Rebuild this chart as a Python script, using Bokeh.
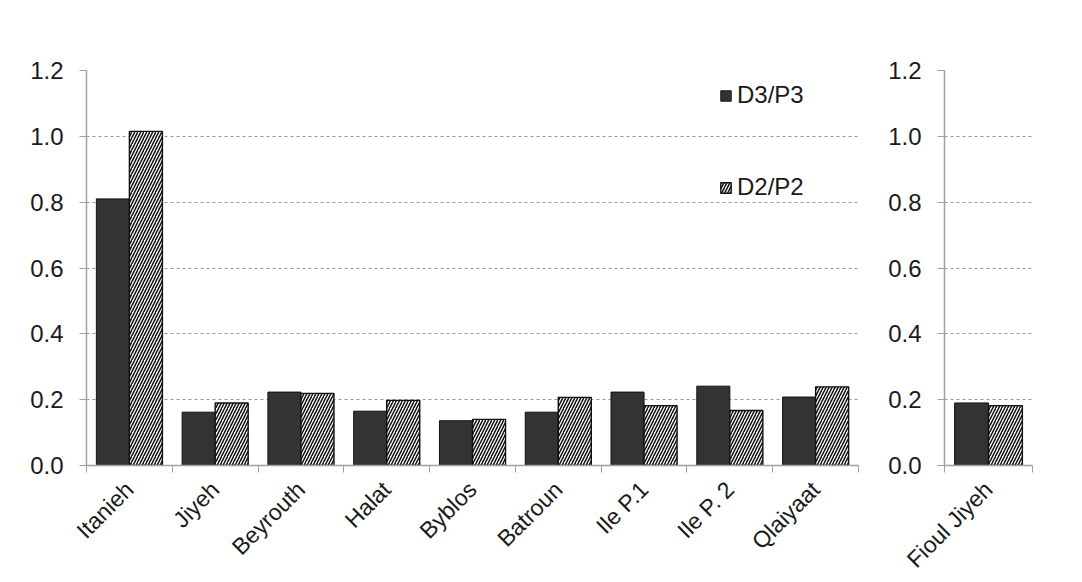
import numpy as np
from math import pi
from bokeh.plotting import figure
from bokeh.layouts import row
from bokeh.models import FixedTicker, Range1d, Legend, LegendItem, ColumnDataSource
from bokeh.embed import file_html
from bokeh.resources import INLINE

# ---- data ----
sites = ["Itanieh", "Jiyeh", "Beyrouth", "Halat", "Byblos", "Batroun", "Ile P.1", "Ile P. 2", "Qlaiyaat"]
d3_p3 = [0.81, 0.162, 0.223, 0.165, 0.136, 0.162, 0.223, 0.241, 0.208]
d2_p2 = [1.015, 0.19, 0.219, 0.198, 0.14, 0.207, 0.182, 0.167, 0.239]

fuel_sites = ["Fioul Jiyeh"]
fuel_d3_p3 = [0.19]
fuel_d2_p2 = [0.182]

y_ticks = [0.0, 0.2, 0.4, 0.6, 0.8, 1.0, 1.2]
series_names = ["D3/P3", "D2/P2"]

FONT = "Liberation Sans"
DARK = "#333333"
BAR_W = 0.385


def make_fig(cats, a_vals, b_vals, frame_w, bl, br, legend=False):
    n = len(cats)
    p = figure(frame_width=frame_w, frame_height=395, x_range=Range1d(0, n), y_range=Range1d(0, 1.2),
               output_backend="svg", toolbar_location=None,
               min_border_left=bl, min_border_right=br, min_border_top=70, min_border_bottom=100)
    p.outline_line_color = None
    centers = np.arange(n) + 0.5
    src = ColumnDataSource(dict(xa=centers - BAR_W / 2, xb=centers + BAR_W / 2, a=a_vals, b=b_vals))
    ra = p.vbar(x="xa", top="a", width=BAR_W, source=src, fill_color=DARK, line_color="#111111", line_width=1)
    rb = p.vbar(x="xb", top="b", width=BAR_W, source=src, fill_color="white", line_color="#111111",
                line_width=1.4, hatch_pattern="right_diagonal_line", hatch_color="#111111",
                hatch_scale=6, hatch_weight=1.5)

    # x axis: labels at centres, ticks at category boundaries
    xa = p.xaxis[0]
    xa.ticker = FixedTicker(ticks=list(centers), minor_ticks=list(np.arange(n + 1)))
    xa.major_label_overrides = {float(c): name for c, name in zip(centers, cats)}
    xa.major_tick_out = 0
    xa.major_tick_in = 0
    xa.minor_tick_out = 7
    xa.minor_tick_in = 0
    xa.minor_tick_line_color = "#a0a0a0"
    xa.axis_line_color = "#a0a0a0"
    xa.axis_line_width = 1.5
    xa.major_label_orientation = pi / 4
    xa.major_label_text_font = FONT
    xa.major_label_text_font_size = "23px"
    xa.major_label_text_color = "#1a1a1a"
    xa.major_label_standoff = 13

    ya = p.yaxis[0]
    ya.ticker = FixedTicker(ticks=y_ticks)
    ya.major_label_overrides = {t: f"{t:.1f}" for t in y_ticks}
    ya.major_tick_out = 7
    ya.major_tick_in = 0
    ya.minor_tick_out = 0
    ya.minor_tick_in = 0
    ya.major_tick_line_color = "#a0a0a0"
    ya.axis_line_color = "#a0a0a0"
    ya.axis_line_width = 1.5
    ya.major_label_text_font = FONT
    ya.major_label_text_font_size = "24px"
    ya.major_label_text_color = "#1a1a1a"
    ya.major_label_standoff = 16

    p.xgrid.grid_line_color = None
    p.ygrid.ticker = FixedTicker(ticks=y_ticks[1:])
    p.ygrid.grid_line_color = "#9a9a9a"
    p.ygrid.grid_line_dash = "3 3"
    p.ygrid.grid_line_width = 1

    if legend:
        for r, name, yloc in [(ra, series_names[0], 356), (rb, series_names[1], 264)]:
            lg = Legend(items=[LegendItem(label=name, renderers=[r])], location=(633, yloc),
                        glyph_width=13, glyph_height=13, label_standoff=5, padding=0, margin=0,
                        border_line_color=None, background_fill_alpha=0,
                        label_text_font=FONT, label_text_font_size="24px", label_text_color="#1a1a1a",
                        label_height=24)
            p.add_layout(lg, "center")
    return p


left = make_fig(sites, d3_p3, d2_p2, 772, 86, 12, legend=True)
right = make_fig(fuel_sites, fuel_d3_p3, fuel_d2_p2, 88, 74, 30)

layout = row(left, right)
open("out.html", "w").write(file_html(layout, INLINE))
